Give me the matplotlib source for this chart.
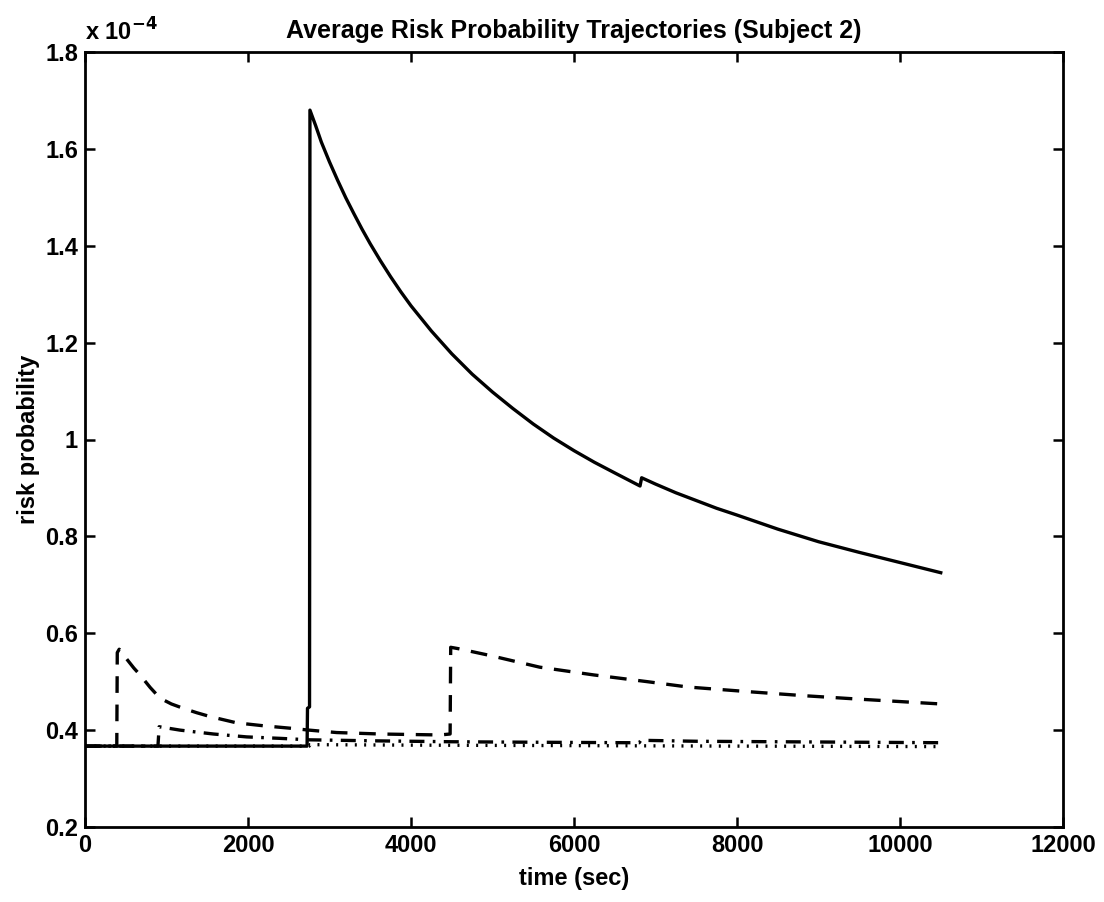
import matplotlib
matplotlib.use("Agg")
import matplotlib.pyplot as plt
from matplotlib.ticker import FuncFormatter, FixedLocator

# Risk probability trajectories, values in units of 1e-4
t_solid = [0, 2725, 2730, 2755, 2760, 2830, 2900, 3000, 3100, 3200, 3300, 3400,
           3500, 3625, 3750, 3875, 4000, 4250, 4500, 4750, 5000, 5250, 5500,
           5750, 6000, 6250, 6500, 6810, 6830, 7000, 7250, 7500, 7750, 8000,
           8500, 9000, 9500, 10000, 10500]
p_solid = [0.367, 0.367, 0.445, 0.448, 1.680, 1.648, 1.614, 1.573, 1.535, 1.499,
           1.466, 1.434, 1.404, 1.369, 1.336, 1.305, 1.276, 1.224, 1.177, 1.135,
           1.098, 1.064, 1.032, 1.003, 0.977, 0.953, 0.931, 0.904, 0.921, 0.908,
           0.890, 0.874, 0.858, 0.844, 0.815, 0.789, 0.767, 0.746, 0.725]

t_dash = [0, 390, 396, 420, 520, 600, 675, 800, 920, 1060, 1206, 1370, 1534,
          1861, 2188, 2515, 2750, 3088, 3620, 4356, 4480, 4487, 4586, 4972,
          5578, 6240, 6901, 7397, 8169, 8830, 9492, 10500]
p_dash = [0.367, 0.367, 0.560, 0.567, 0.545, 0.528, 0.514, 0.488, 0.466, 0.454,
          0.445, 0.436, 0.428, 0.415, 0.409, 0.404, 0.400, 0.395, 0.392, 0.390,
          0.392, 0.571, 0.568, 0.554, 0.530, 0.514, 0.500, 0.489, 0.479, 0.471,
          0.464, 0.454]

t_dashdot = [0, 895, 910, 1166, 1575, 1984, 2393, 2750, 3500, 4500, 5500, 6700,
             6800, 6820, 7500, 8500, 9500, 10500]
p_dashdot = [0.367, 0.367, 0.407, 0.400, 0.392, 0.386, 0.383, 0.380, 0.378,
             0.376, 0.375, 0.374, 0.374, 0.379, 0.377, 0.376, 0.375, 0.374]

t_dot = [0, 2750, 2760, 4000, 6000, 8000, 10500]
p_dot = [0.367, 0.367, 0.370, 0.369, 0.368, 0.367, 0.366]

x_ticks = [0, 2000, 4000, 6000, 8000, 10000, 12000]
y_ticks = [0.2, 0.4, 0.6, 0.8, 1.0, 1.2, 1.4, 1.6, 1.8]

plt.rcParams["font.family"] = ["Liberation Sans", "DejaVu Sans"]
plt.rcParams["font.weight"] = "bold"

fig = plt.figure(figsize=(11.04, 9.02), dpi=100)
ax = fig.add_axes([85 / 1104, 75 / 902, 978 / 1104, 775 / 902])

lw = 2.4
ax.plot(t_dot, p_dot, color="black", lw=lw, linestyle=(0, (0.6, 2.2)))
ax.plot(t_dashdot, p_dashdot, color="black", lw=lw,
        linestyle=(0, (4.5, 2.5, 0.8, 2.5)))
ax.plot(t_dash, p_dash, color="black", lw=lw, linestyle=(0, (5, 3.5)))
ax.plot(t_solid, p_solid, color="black", lw=lw, linestyle="-")

ax.set_xlim(0, 12000)
ax.set_ylim(0.2, 1.8)
ax.xaxis.set_major_locator(FixedLocator(x_ticks))
ax.yaxis.set_major_locator(FixedLocator(y_ticks))
ax.xaxis.set_major_formatter(FuncFormatter(lambda v, _: f"{v:g}"))
ax.yaxis.set_major_formatter(FuncFormatter(lambda v, _: f"{v:g}"))
ax.tick_params(direction="in", length=7, width=1.8, top=True, right=True,
               labelsize=17, pad=5)
for lab in ax.get_xticklabels() + ax.get_yticklabels():
    lab.set_fontweight("bold")
for s in ax.spines.values():
    s.set_linewidth(2.0)

ax.set_xlabel("time (sec)", fontsize=17, fontweight="bold", labelpad=7)
ax.set_ylabel("risk probability", fontsize=17, fontweight="bold", labelpad=4)
ax.set_title("Average Risk Probability Trajectories (Subject 2)", fontsize=18,
             fontweight="bold", pad=10)
ax.text(0.0, 1.008, r"x 10$^{\mathbf{-4}}$", transform=ax.transAxes,
        fontsize=17, fontweight="bold", ha="left", va="bottom")

fig.savefig("out.png", dpi=100)
